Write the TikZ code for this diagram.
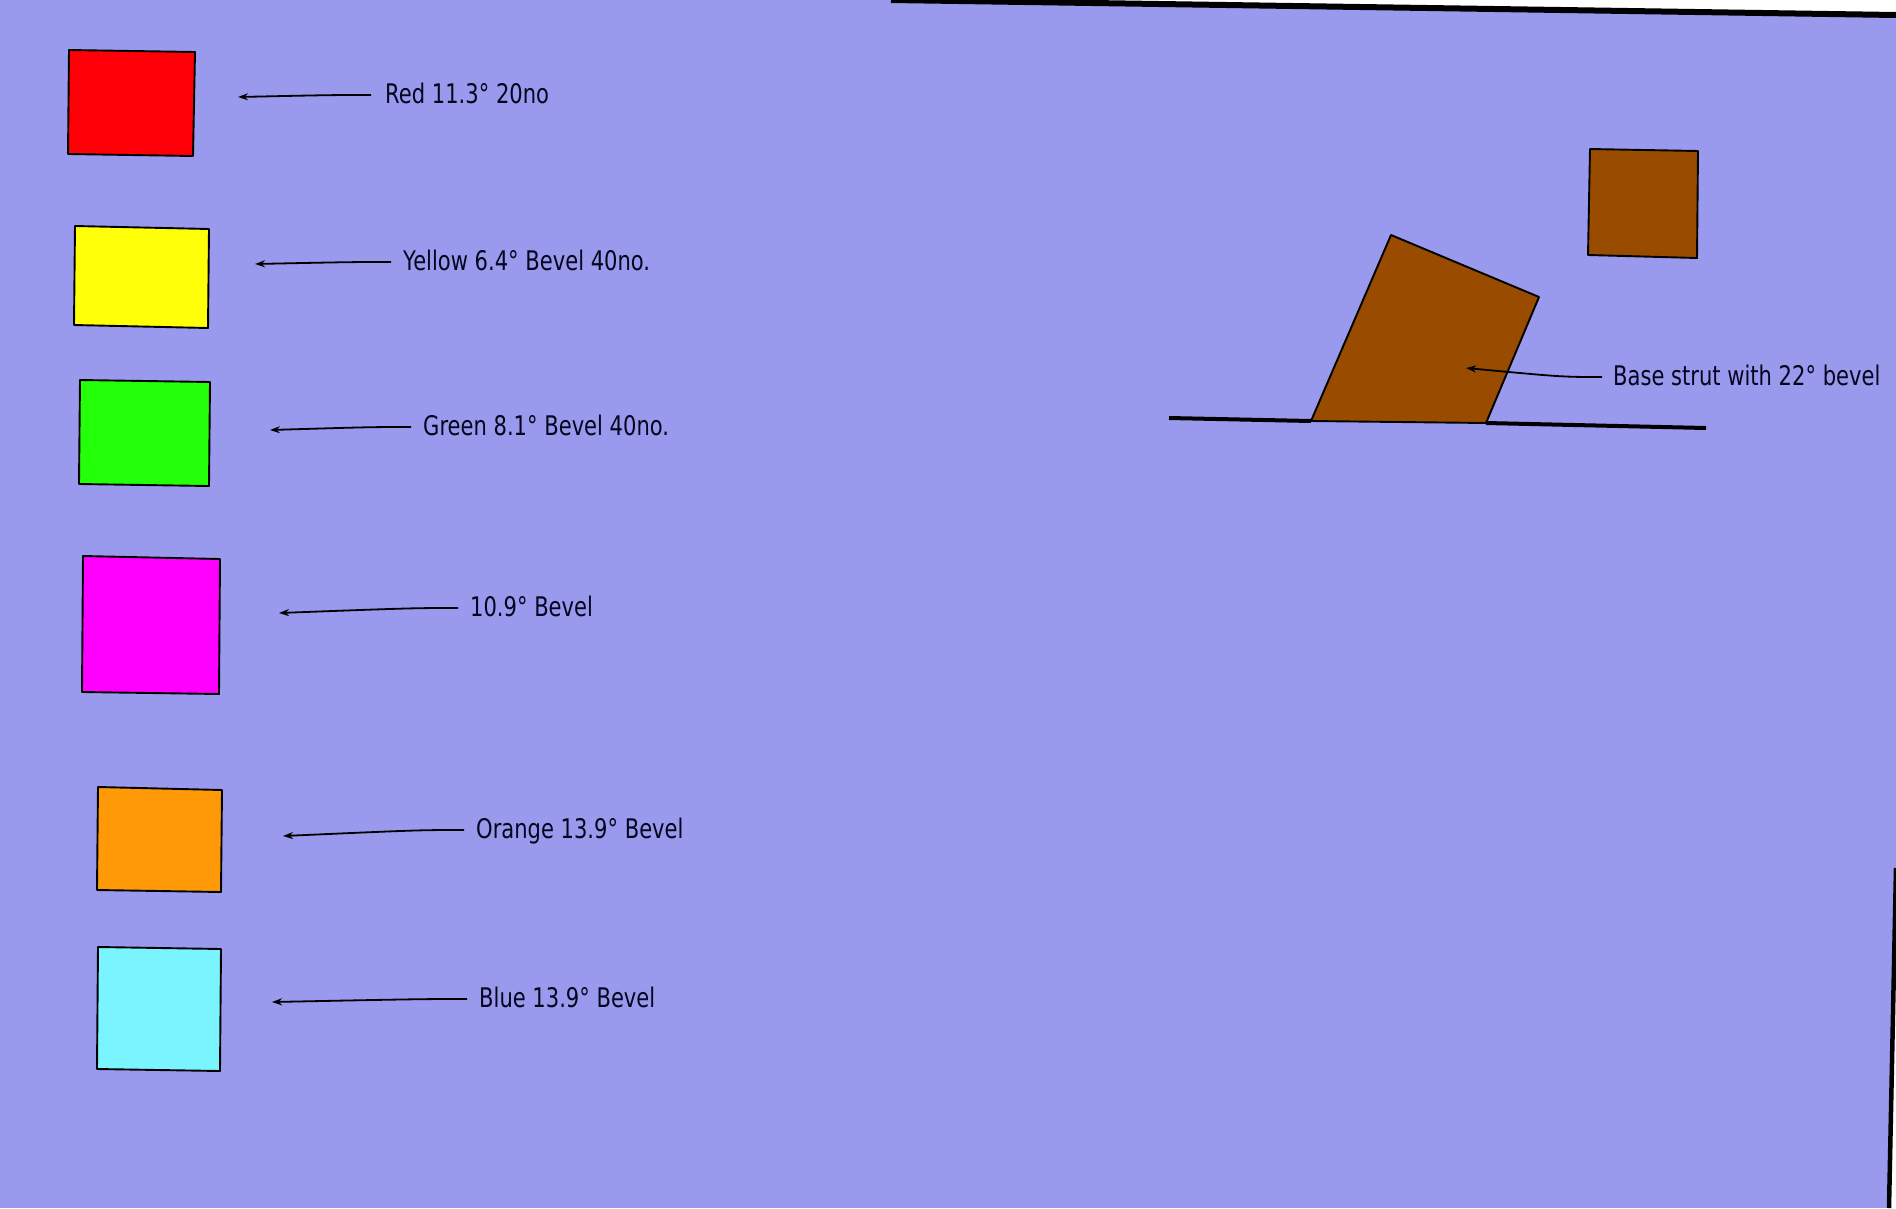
\documentclass[tikz,border=0pt]{standalone}
\usepackage{fontspec}
\newfontfamily\lbl[FakeStretch=0.78]{DejaVu Sans}
\usetikzlibrary{arrows.meta}
\definecolor{bg}{RGB}{153,153,238}
\definecolor{cred}{RGB}{255,0,8}
\definecolor{cyellow}{RGB}{255,255,10}
\definecolor{cgreen}{RGB}{36,255,10}
\definecolor{cmag}{RGB}{255,0,255}
\definecolor{corange}{RGB}{255,153,8}
\definecolor{ccyan}{RGB}{122,245,255}
\definecolor{cbrown}{RGB}{153,76,0}
\definecolor{ink}{RGB}{5,5,30}
\begin{document}
\begin{tikzpicture}[x=1pt,y=-1pt,
  sq/.style={draw=black,line width=1.9pt,line join=round},
  lab/.style={font=\lbl\fontsize{27}{30}\selectfont, anchor=base west, inner sep=0pt,
              text height=20pt, text depth=4pt, text=ink},
  callout/.style={draw=black, line width=1.8pt, -{Stealth[length=10pt,width=7pt]}},
  ground/.style={draw=black, line width=4pt, line cap=butt}]
\path[use as bounding box, fill=bg] (0,0) rectangle (1896,1208);

% scanned page edges
\fill[white] (891,0) -- (1896,0) -- (1896,15) -- cycle;
\draw[line width=6pt] (891,0) -- (1896,15);
\fill[white] (1896,868) -- (1896,1208) -- (1889,1208) -- cycle;
\draw[line width=4.5pt] (1896,868) -- (1889,1208);

% coloured squares
\filldraw[sq, fill=cred]    (69,50) -- (195,52) -- (193,156) -- (68,154) -- cycle;
\filldraw[sq, fill=cyellow] (75,226) -- (209,229) -- (208,328) -- (74,325) -- cycle;
\filldraw[sq, fill=cgreen]  (80,380) -- (210,382) -- (209,486) -- (79,484) -- cycle;
\filldraw[sq, fill=cmag]    (83,556) -- (220,559) -- (219,694) -- (82,692) -- cycle;
\filldraw[sq, fill=corange] (98,787) -- (222,790) -- (221,892) -- (97,890) -- cycle;
\filldraw[sq, fill=ccyan]   (98,947) -- (221,949) -- (220,1071) -- (97,1069) -- cycle;

% labels and callouts
\node[lab] (lred) at (385,103) {Red 11.3° 20no};
\coordinate (tred) at (238,97);
\draw[callout] ([xshift=-14pt]lred.west) .. controls +(-40,0) .. (tred);

\node[lab] (lyel) at (403,270) {Yellow 6.4° Bevel 40no.};
\coordinate (tyel) at (255,264);
\draw[callout] ([xshift=-12pt]lyel.west) .. controls +(-40,0) .. (tyel);

\node[lab] (lgrn) at (423,435) {Green 8.1° Bevel 40no.};
\coordinate (tgrn) at (270,430);
\draw[callout] ([xshift=-12pt]lgrn.west) .. controls +(-40,0) .. (tgrn);

\node[lab] (lmag) at (470,616) {10.9° Bevel};
\coordinate (tmag) at (279,613);
\draw[callout] ([xshift=-12pt]lmag.west) .. controls +(-45,0) .. (tmag);

\node[lab] (lora) at (476,838) {Orange 13.9° Bevel};
\coordinate (tora) at (283,836);
\draw[callout] ([xshift=-12pt]lora.west) .. controls +(-45,0) .. (tora);

\node[lab] (lblu) at (479,1007) {Blue 13.9° Bevel};
\coordinate (tblu) at (272,1002);
\draw[callout] ([xshift=-12pt]lblu.west) .. controls +(-45,0) .. (tblu);

% brown parts
\filldraw[sq, fill=cbrown] (1590,149) -- (1698,151) -- (1697,258) -- (1588,255) -- cycle;
\filldraw[sq, fill=cbrown] (1391,235) -- (1539,297) -- (1486,423) -- (1311,421) -- cycle;
\draw[ground] (1169,418) -- (1311,421);
\draw[ground] (1486,423) -- (1706,428);

\node[lab] (lbase) at (1613,385) {Base strut with 22° bevel};
\coordinate (tbase) at (1466,368);
\draw[callout] ([xshift=-11pt]lbase.west) .. controls +(-40,0) .. (tbase);
\end{tikzpicture}
\end{document}
